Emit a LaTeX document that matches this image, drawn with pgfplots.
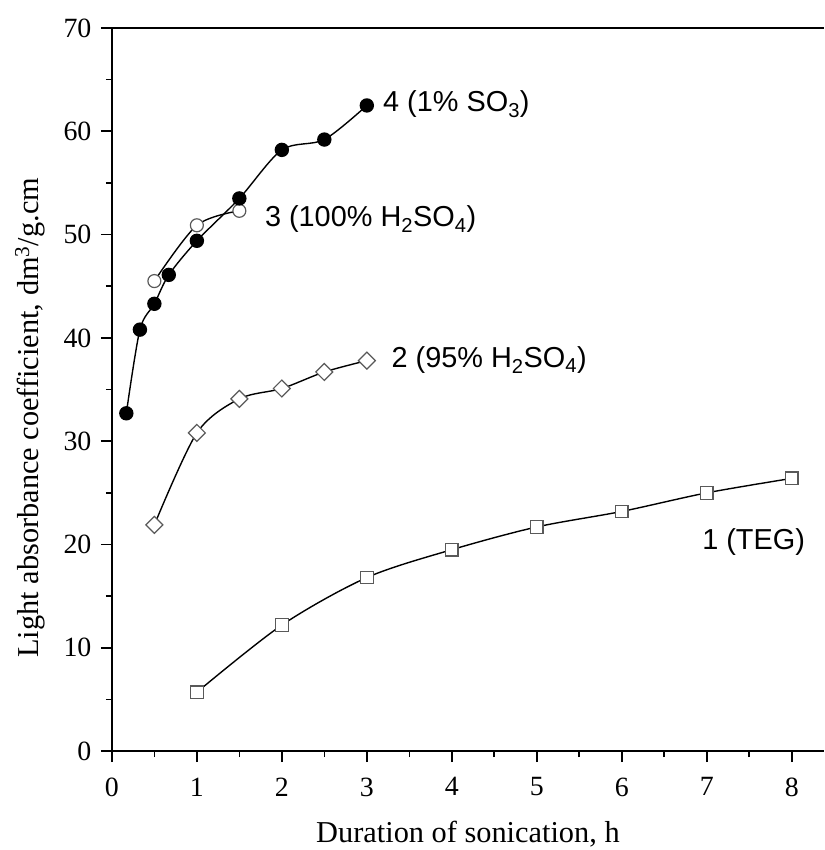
\documentclass[border=0pt]{standalone}
\usepackage{pgfplots}
\pgfplotsset{compat=1.18}
\usepackage{fontspec}
\setmainfont{Liberation Serif}
\newfontfamily\arial{Liberation Sans}
\begin{document}
\begin{tikzpicture}
\begin{axis}[
  scale only axis, width=713bp, height=724bp,
  xmin=0, xmax=8.38, ymin=0, ymax=70,
  axis x line=box, axis y line=left,
  axis line style={-, line width=1.6bp},
  xtick={0,...,8}, ytick={0,10,...,70},
  minor xtick={0.5,1.5,...,7.5}, minor ytick={5,15,...,65},
  tick align=outside, xtick pos=bottom, ytick pos=left,
  major tick length=11bp, minor tick length=6bp,
  tick style={line width=1.6bp, black},
  ticklabel style={font=\fontsize{28}{32}\selectfont},
  xticklabel style={yshift=-12bp},
  yticklabel style={xshift=-6bp},
  /pgf/number format/assume math mode=true,
  label style={font=\fontsize{30.5}{34}\selectfont},
  xlabel={Duration of sonication, h},
  ylabel={Light absorbance coefficient, dm\textsuperscript{3}/g.cm},
  xlabel style={at={(axis description cs:0.5,-0.1257)}, anchor=base},
  ylabel style={at={(axis description cs:-0.115,0.461)}, anchor=center},
  clip=false,
]
\path (axis description cs:-0.1571,-0.1354) rectangle (axis description cs:1,1.0387);
\addplot[black, line width=1.4bp, smooth, mark=square*, mark size=6.3bp,
  mark options={fill=white, draw=black!65, line width=1.2bp}]
  coordinates {(1,5.7) (2,12.2) (3,16.8) (4,19.5) (5,21.7) (6,23.2) (7,25.0) (8,26.4)};
\addplot[black, line width=1.4bp, smooth, mark=square*, mark size=6bp,
  mark options={fill=white, draw=black!65, line width=1.2bp, rotate=45}]
  coordinates {(0.5,21.9) (1,30.8) (1.5,34.1) (2,35.1) (2.5,36.7) (3,37.8)};
\addplot[black, line width=1.4bp, smooth, mark=*, mark size=6.5bp,
  mark options={fill=white, draw=black!65, line width=1.2bp}]
  coordinates {(0.5,45.5) (1,50.9) (1.5,52.3)};
\addplot[black, line width=1.4bp, smooth, mark=*, mark size=6.5bp,
  mark options={fill=black, draw=black}]
  coordinates {(0.17,32.7) (0.33,40.8) (0.5,43.3) (0.67,46.1) (1,49.4) (1.5,53.5) (2,58.2) (2.5,59.2) (3,62.5)};
\node[anchor=base west, font=\arial\fontsize{29}{32}\selectfont, inner sep=0pt] at (axis cs:3.19,61.9) {4 (1\% SO\textsubscript{3})};
\node[anchor=base west, font=\arial\fontsize{29}{32}\selectfont, inner sep=0pt] at (axis cs:1.80,50.76) {3 (100\% H\textsubscript{2}SO\textsubscript{4})};
\node[anchor=base west, font=\arial\fontsize{29}{32}\selectfont, inner sep=0pt] at (axis cs:3.29,37.13) {2 (95\% H\textsubscript{2}SO\textsubscript{4})};
\node[anchor=base west, font=\arial\fontsize{29}{32}\selectfont, inner sep=0pt] at (axis cs:6.945,19.53) {1 (TEG)};
\end{axis}
\end{tikzpicture}
\end{document}
